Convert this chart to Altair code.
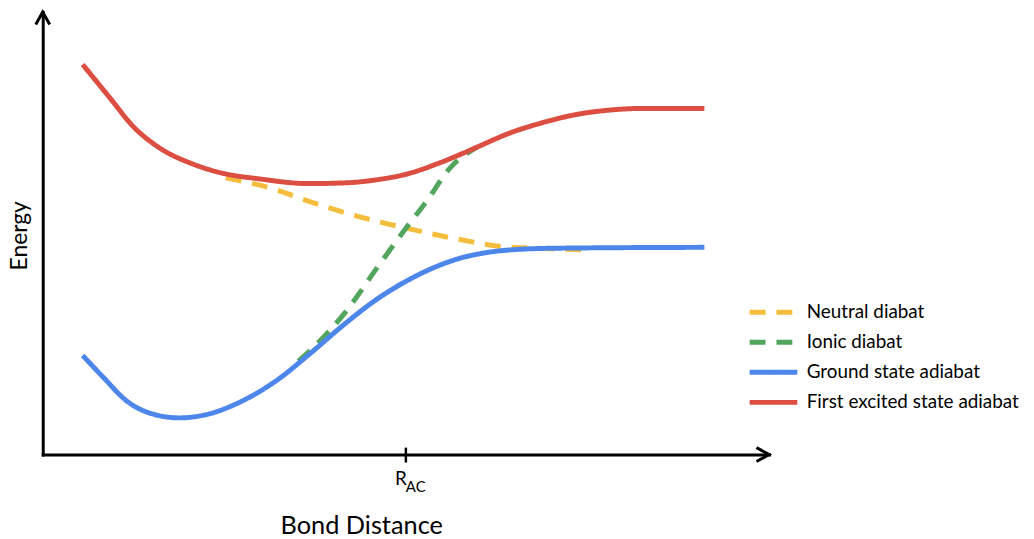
import altair as alt
import pandas as pd

series_names = ["Neutral diabat", "Ionic diabat", "Ground state adiabat", "First excited state adiabat"]
series_colors = ["#F5BD3C", "#52A55C", "#4D86EA", "#DC4E41"]
series_dash = [[16, 11], [16, 11], [1, 0], [1, 0]]

neutral_x = [2.52, 3.25, 3.52, 4.20, 5.02, 5.80, 6.25, 6.79, 7.54]
neutral_y = [6.34, 6.05, 5.89, 5.53, 5.19, 4.92, 4.79, 4.74, 4.70]

ionic_x = [3.52, 3.70, 4.16, 4.61, 4.98, 5.29, 5.61, 5.98]
ionic_y = [2.17, 2.44, 3.27, 4.31, 5.15, 5.82, 6.57, 7.04]

ground_x = [0.55, 0.83, 1.16, 1.51, 1.88, 2.29, 2.74, 3.21, 3.70, 4.16, 4.61, 5.06, 5.43, 5.70, 6.07, 6.62, 7.07, 9.11]
ground_y = [2.30, 1.81, 1.26, 0.97, 0.88, 0.97, 1.26, 1.72, 2.37, 3.02, 3.59, 4.04, 4.33, 4.49, 4.63, 4.72, 4.74, 4.76]

excited_x = [0.55, 0.93, 1.24, 1.61, 2.06, 2.52, 2.97, 3.66, 4.20, 4.61, 5.02, 5.43, 5.80, 5.98, 6.43, 6.89, 7.34, 7.79, 8.25, 9.11]
excited_y = [8.92, 8.15, 7.52, 7.02, 6.66, 6.43, 6.32, 6.21, 6.23, 6.30, 6.43, 6.66, 6.91, 7.04, 7.36, 7.60, 7.78, 7.88, 7.92, 7.92]

x_domain = [0, 10]
y_domain = [0.045, 10.113]
tick_x = [5.0]
tick_main = "R"
tick_sub = "AC"

rows = []
for name, xs_, ys_ in [
    (series_names[0], neutral_x, neutral_y),
    (series_names[1], ionic_x, ionic_y),
    (series_names[2], ground_x, ground_y),
    (series_names[3], excited_x, excited_y),
]:
    for i, (a, b) in enumerate(zip(xs_, ys_)):
        rows.append({"series": name, "x": a, "y": b, "order": i})
df = pd.DataFrame(rows)

FONT = "Lato"

xs = alt.Scale(domain=x_domain, nice=False, zero=False)
ys = alt.Scale(domain=y_domain, nice=False, zero=False)

legend = alt.Legend(
    title=None, orient="none", legendX=722, legendY=288,
    symbolType="M-2,0L2,0", symbolSize=576, symbolStrokeWidth=5,
    labelFontSize=19, labelFont=FONT, labelColor="black", labelLimit=0,
    rowPadding=5.3, padding=0, labelOffset=19,
)

enc = dict(
    x=alt.X("x:Q", scale=xs, axis=alt.Axis(
        labels=False, ticks=False, grid=False, domainColor="black", domainWidth=3,
        title="Bond Distance", titleFont=FONT, titleFontSize=25.5, titleFontWeight="normal",
        titleColor="black", titleX=321, titleY=80, titleAlign="center", titleBaseline="alphabetic")),
    y=alt.Y("y:Q", scale=ys, axis=alt.Axis(
        labels=False, ticks=False, grid=False, domainColor="black", domainWidth=3,
        title="Energy", titleFont=FONT, titleFontSize=23, titleFontWeight="normal",
        titleColor="black", titleX=-23, titleY=225, titleAngle=270,
        titleAlign="center", titleBaseline="middle")),
    color=alt.Color("series:N", scale=alt.Scale(domain=series_names, range=series_colors), legend=legend),
    strokeDash=alt.StrokeDash("series:N", scale=alt.Scale(domain=series_names, range=series_dash), legend=legend),
    order="order:Q",
)

dashed = alt.Chart(df[df.series.isin(series_names[:2])]).mark_line(
    strokeWidth=5, interpolate="monotone").encode(detail="series:N", **enc)
solid = alt.Chart(df[df.series.isin(series_names[2:])]).mark_line(
    strokeWidth=5, interpolate="monotone").encode(detail="series:N", **enc)

one = pd.DataFrame({"t": tick_x})
up_arrow = alt.Chart(one).mark_point(
    shape="M-0.54,0.97L0,0L0.54,0.97", size=676, filled=False, strokeWidth=3,
    color="black", opacity=1).encode(x=alt.datum(x_domain[0], scale=xs), y=alt.datum(y_domain[1], scale=ys))
right_arrow = alt.Chart(one).mark_point(
    shape="M-0.97,-0.54L0,0L-0.97,0.54", size=676, filled=False, strokeWidth=3,
    color="black", opacity=1).encode(x=alt.datum(x_domain[1], scale=xs), y=alt.datum(y_domain[0], scale=ys))

tick = alt.Chart(one).mark_rule(strokeWidth=2.5, color="black").encode(
    x=alt.X("t:Q", scale=xs), y=alt.value(439), y2=alt.value(454))
lab_r = alt.Chart(one).mark_text(
    text=tick_main, font=FONT, fontSize=19, align="right", baseline="alphabetic",
    color="black", dx=1).encode(x=alt.X("t:Q", scale=xs), y=alt.value(477))
lab_ac = alt.Chart(one).mark_text(
    text=tick_sub, font=FONT, fontSize=15, align="left", baseline="alphabetic",
    color="black", dx=0).encode(x=alt.X("t:Q", scale=xs), y=alt.value(484))

chart = alt.layer(dashed, solid, up_arrow, right_arrow, tick, lab_r, lab_ac).properties(
    width=732, height=446,
    autosize=alt.AutoSizeParams(type="none"),
    padding={"left": 35, "top": 2, "right": 259, "bottom": 83},
).configure_view(stroke=None).configure_axis(domainCap="square")

chart.save("out.html", embed_options={"renderer": "svg", "actions": False})
